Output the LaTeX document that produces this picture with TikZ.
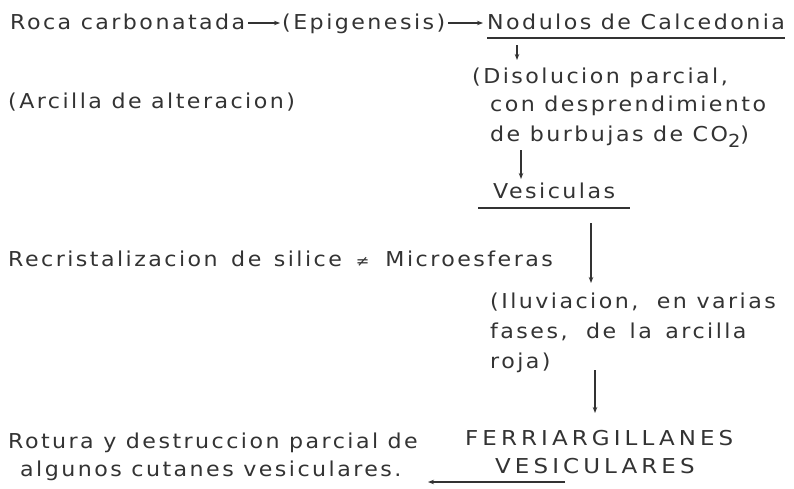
\documentclass[tikz,border=0pt]{standalone}
\usepackage{fontspec}
\setmainfont{DejaVu Sans}[LetterSpace=12,FakeStretch=1.08]
\newfontfamily\capsfont{DejaVu Sans}[LetterSpace=20,FakeStretch=1.12]
\usetikzlibrary{arrows.meta}
\definecolor{ink}{HTML}{333333}
\begin{document}
\begin{tikzpicture}[x=1pt,y=-1pt,
  txt/.style={anchor=base west, inner sep=0pt, text=ink, font=\fontsize{20.5}{25}\selectfont},
  captxt/.style={txt, font=\capsfont\fontsize{20.5}{25}\selectfont},
  arr/.style={draw=ink, line width=1.1pt, -{Stealth[length=6pt,width=4.5pt]}},
  uline/.style={draw=ink, line width=1.5pt}]
\useasboundingbox[fill=white] (0,0) rectangle (794,488);

\node[txt] (roca) at (10,29) {Roca carbonatada};
\node[txt] (epi) at (282,29) {(Epigenesis)};
\node[txt] (nod) at (487,29) {Nodulos de Calcedonia};
\draw[uline] ([yshift=-9pt]nod.base west) -- ([yshift=-9pt]nod.base east);

\node[txt] (dis) at (472,83) {(Disolucion parcial,};
\node[txt] (con) at (490,111) {con desprendimiento};
\node[txt] (co2) at (490,141) {de burbujas de CO\raisebox{-6pt}{\fontsize{18}{18}\selectfont 2})};
\node[txt] (arc) at (8,108) {(Arcilla de alteracion)};

\node[txt] (ves) at (493,198) {Vesiculas};
\draw[uline] ([xshift=-15pt,yshift=-10pt]ves.base west) -- ([xshift=15pt,yshift=-10pt]ves.base east);

\node[txt] (rec) at (8,266) {Recristalizacion\hspace{4pt} de\hspace{3pt} silice\hspace{14pt}{\fontsize{15}{15}\selectfont ≠}\hspace{16pt}Microesferas};

\node[txt] (ilu) at (490,308) {(Iluviacion,\hspace{9pt} en varias};
\node[txt] (fas) at (490,338) {fases,\hspace{9pt} de\hspace{4pt} la\hspace{4pt} arcilla};
\node[txt] (roj) at (490,368) {roja)};

\node[captxt] (fer) at (465,445) {FERRIARGILLANES};
\node[captxt] (vsc) at (495,473) {VESICULARES};
\node[txt] (rot) at (8,448) {Rotura y destruccion parcial de};
\node[txt] (alg) at (20,476) {algunos cutanes vesiculares.};

% connectors
\draw[arr] ([xshift=3pt,yshift=6pt]roca.base east) -- ([xshift=-2pt,yshift=6pt]epi.base west);
\draw[arr] ([xshift=3pt,yshift=6pt]epi.base east) -- ([xshift=-4pt,yshift=6pt]nod.base west);

\coordinate (c1) at (517,45);
\draw[arr] (c1) -- (c1 |- 0,60);
\coordinate (c2) at (521,150);
\draw[arr] (c2) -- (c2 |- 0,179);
\coordinate (c3) at (591,223);
\coordinate (c3e) at (591,283);
\draw[arr] (c3) -- (c3e);
\coordinate (c4) at (595,370);
\coordinate (c4e) at (595,413);
\draw[arr] (c4) -- (c4e);
\coordinate (c5) at (565,482);
\coordinate (c5e) at (428,482);
\draw[arr] (c5) -- (c5e);
\end{tikzpicture}
\end{document}
